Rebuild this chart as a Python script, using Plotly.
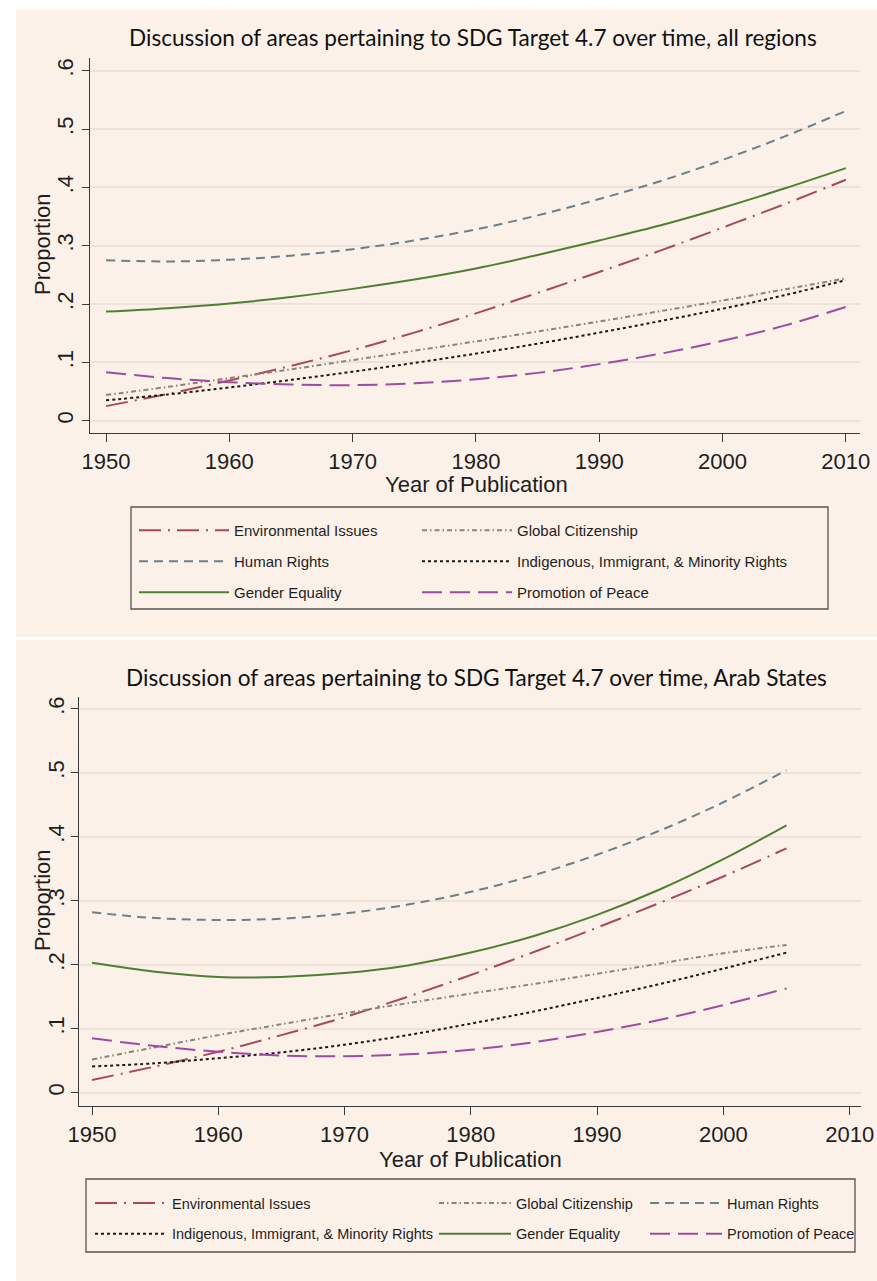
import plotly.graph_objects as go

W, H = 877, 1281

# ---------------- data ----------------
years_all = [1950, 1955, 1960, 1965, 1970, 1975, 1980, 1985, 1990, 1995, 2000, 2005, 2010]
env_all = [0.025, 0.046, 0.069, 0.094, 0.121, 0.151, 0.184, 0.219, 0.255, 0.292, 0.331, 0.371, 0.413]
glob_all = [0.044, 0.058, 0.073, 0.088, 0.104, 0.120, 0.136, 0.153, 0.170, 0.188, 0.206, 0.225, 0.244]
human_all = [0.275, 0.273, 0.276, 0.283, 0.294, 0.309, 0.328, 0.352, 0.380, 0.411, 0.447, 0.487, 0.531]
indig_all = [0.035, 0.045, 0.057, 0.070, 0.084, 0.099, 0.115, 0.132, 0.151, 0.171, 0.192, 0.215, 0.241]
gender_all = [0.187, 0.193, 0.201, 0.212, 0.226, 0.242, 0.261, 0.284, 0.309, 0.335, 0.365, 0.398, 0.433]
peace_all = [0.083, 0.073, 0.066, 0.062, 0.061, 0.064, 0.071, 0.082, 0.097, 0.115, 0.137, 0.163, 0.195]

years_arab = [1950, 1955, 1960, 1965, 1970, 1975, 1980, 1985, 1990, 1995, 2000, 2005]
env_arab = [0.020, 0.041, 0.064, 0.090, 0.118, 0.150, 0.184, 0.220, 0.258, 0.297, 0.338, 0.382]
glob_arab = [0.052, 0.071, 0.090, 0.107, 0.124, 0.140, 0.155, 0.170, 0.186, 0.202, 0.218, 0.231]
human_arab = [0.282, 0.273, 0.270, 0.272, 0.280, 0.294, 0.314, 0.340, 0.372, 0.410, 0.454, 0.504]
indig_arab = [0.041, 0.046, 0.054, 0.063, 0.075, 0.090, 0.108, 0.127, 0.148, 0.170, 0.194, 0.219]
gender_arab = [0.203, 0.189, 0.181, 0.181, 0.187, 0.199, 0.219, 0.245, 0.278, 0.318, 0.365, 0.418]
peace_arab = [0.085, 0.073, 0.064, 0.058, 0.057, 0.060, 0.067, 0.079, 0.095, 0.114, 0.137, 0.163]

series_names = ["Environmental Issues", "Global Citizenship", "Human Rights",
                "Indigenous, Immigrant, & Minority Rights", "Gender Equality", "Promotion of Peace"]
x_ticks = [1950, 1960, 1970, 1980, 1990, 2000, 2010]
y_ticks = [0, 0.1, 0.2, 0.3, 0.4, 0.5, 0.6]
y_ticklabels = ["0", ".1", ".2", ".3", ".4", ".5", ".6"]
title_all = "Discussion of areas pertaining to SDG Target 4.7 over time, all regions"
title_arab = "Discussion of areas pertaining to SDG Target 4.7 over time, Arab States"

# ---------------- styles ----------------
BG = "#FBF1E9"
GRID = "#ECE2D8"
AXIS = "#3A3A3A"
TXT = "#1E1E1E"
styles = [
    dict(color="#A6485E", dash="22px,7px,2px,7px"),
    dict(color="#8A8578", dash="5px,3px,1.5px,3px"),
    dict(color="#6D7F87", dash="9px,6px"),
    dict(color="#1A1A1A", dash="3px,3px"),
    dict(color="#4F7F34", dash="solid"),
    dict(color="#9E4C9E", dash="20px,8px"),
]
LW = 2.0

def px2x(p):
    return p / W

def px2y(p):
    return 1 - p / H

fig = go.Figure()

top_series = [env_all, glob_all, human_all, indig_all, gender_all, peace_all]
bot_series = [env_arab, glob_arab, human_arab, indig_arab, gender_arab, peace_arab]
top_legends = ["legend", "legend2", "legend", "legend2", "legend", "legend2"]
bot_legends = ["legend3", "legend4", "legend5", "legend3", "legend4", "legend5"]

for i, (name, ys) in enumerate(zip(series_names, top_series)):
    fig.add_trace(go.Scatter(
        x=years_all, y=ys, mode="lines", name=name, line_shape="spline",
        line=dict(color=styles[i]["color"], dash=styles[i]["dash"], width=LW),
        xaxis="x", yaxis="y", legend=top_legends[i], legendgroup="t%d" % i,
    ))
for i, (name, ys) in enumerate(zip(series_names, bot_series)):
    fig.add_trace(go.Scatter(
        x=years_arab, y=ys, mode="lines", name=name, line_shape="spline",
        line=dict(color=styles[i]["color"], dash=styles[i]["dash"], width=LW),
        xaxis="x2", yaxis="y2", legend=bot_legends[i], legendgroup="b%d" % i,
    ))

tickfont = dict(family="Liberation Sans, Arial, sans-serif", size=22, color=TXT)

def xaxis(domain, anchor, rng):
    return dict(domain=domain, anchor=anchor, range=rng, tickmode="array", tickvals=x_ticks,
                ticks="outside", ticklen=8, tickwidth=1.2, tickcolor=AXIS,
                showline=True, linecolor=AXIS, linewidth=1.2, showgrid=False, zeroline=False,
                tickfont=tickfont, fixedrange=True)

def yaxis(domain, anchor, rng, standoff, tl):
    return dict(domain=domain, anchor=anchor, range=rng, tickmode="array", tickvals=y_ticks,
                ticktext=y_ticklabels, tickangle=-90, ticklabelstandoff=standoff,
                ticks="outside", ticklen=tl, tickwidth=1.2, tickcolor=AXIS,
                showline=True, linecolor=AXIS, linewidth=1.2, showgrid=True,
                gridcolor=GRID, gridwidth=1.5, zeroline=False,
                tickfont=tickfont, fixedrange=True)

legfont = dict(family="Liberation Sans, Arial, sans-serif", size=15, color=TXT)

def legend(xp, yp, size, gap, iw):
    return dict(x=px2x(xp), y=px2y(yp), xanchor="left", yanchor="top", orientation="v",
                bgcolor="rgba(0,0,0,0)", borderwidth=0, itemwidth=iw,
                tracegroupgap=gap, font=dict(legfont, size=size), itemclick=False,
                itemdoubleclick=False)

fig.update_layout(
    width=W, height=H, margin=dict(l=0, r=0, t=0, b=0, autoexpand=False), autosize=False,
    paper_bgcolor="white", plot_bgcolor="rgba(0,0,0,0)",
    xaxis=xaxis([px2x(90), px2x(860)], "y", [1948.7, 2011.15]),
    yaxis=yaxis([px2y(433.3), px2y(58.3)], "x", [-0.0216, 0.6213], 0, 7),
    xaxis2=xaxis([px2x(79), px2x(861)], "y2", [1948.97, 2010.9]),
    yaxis2=yaxis([px2y(1106), px2y(696.7)], "x2", [-0.0208, 0.619], -2, 7),
    legend=legend(134, 514, 15, 8.5, 90),
    legend2=legend(417, 514, 15, 8.5, 90),
    legend3=legend(90, 1187, 14.5, 9, 72),
    legend4=legend(434, 1187, 14.5, 9, 72),
    legend5=legend(645, 1187, 14.5, 9, 72),
    showlegend=True,
)

# background panels and legend boxes
shapes = [
    dict(type="rect", xref="paper", yref="paper", x0=px2x(16), x1=1, y0=px2y(637), y1=px2y(10),
         fillcolor=BG, line=dict(width=0), layer="below"),
    dict(type="rect", xref="paper", yref="paper", x0=px2x(16), x1=1, y0=0, y1=px2y(640),
         fillcolor=BG, line=dict(width=0), layer="below"),
    dict(type="rect", xref="paper", yref="paper", x0=px2x(131), x1=px2x(828), y0=px2y(609), y1=px2y(507),
         fillcolor="rgba(0,0,0,0)", line=dict(color="#555555", width=1.3)),
    dict(type="rect", xref="paper", yref="paper", x0=px2x(86), x1=px2x(855), y0=px2y(1252), y1=px2y(1179),
         fillcolor="rgba(0,0,0,0)", line=dict(color="#555555", width=1.3)),
]
fig.update_layout(shapes=shapes)

titlefont = dict(family="Lato, Open Sans, sans-serif", size=22.6, color="#111111")
axtitlefont = dict(family="Liberation Sans, Arial, sans-serif", size=22, color=TXT)
annotations = [
    dict(text=title_all, x=px2x(473), y=px2y(37), xref="paper", yref="paper",
         showarrow=False, font=titlefont, xanchor="center", yanchor="middle"),
    dict(text=title_arab, x=px2x(476), y=px2y(677), xref="paper", yref="paper",
         showarrow=False, font=titlefont, xanchor="center", yanchor="middle"),
    dict(text="Year of Publication", x=px2x(476), y=px2y(485), xref="paper", yref="paper",
         showarrow=False, font=axtitlefont, xanchor="center", yanchor="middle"),
    dict(text="Year of Publication", x=px2x(470), y=px2y(1159), xref="paper", yref="paper",
         showarrow=False, font=axtitlefont, xanchor="center", yanchor="middle"),
    dict(text="Proportion", x=px2x(42), y=px2y(244), xref="paper", yref="paper", textangle=-90,
         showarrow=False, font=axtitlefont, xanchor="center", yanchor="middle"),
    dict(text="Proportion", x=px2x(42), y=px2y(900), xref="paper", yref="paper", textangle=-90,
         showarrow=False, font=axtitlefont, xanchor="center", yanchor="middle"),
]
fig.update_layout(annotations=annotations)

fig.write_html("out.html", config={"displayModeBar": False},
               post_script="document.body.style.margin='0';document.body.style.overflow='hidden';")
